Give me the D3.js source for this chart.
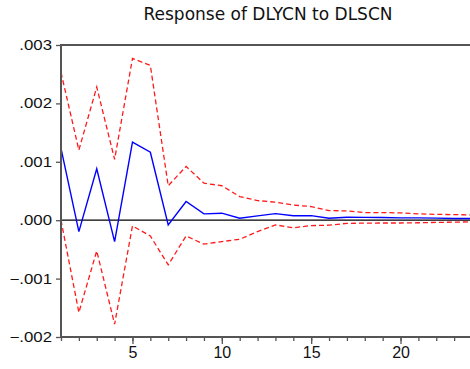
<!DOCTYPE html>
<html>
<head>
<meta charset="utf-8">
<script src="https://cdn.jsdelivr.net/npm/d3@7"></script>
<style>
  body { margin: 0; background: #fff; }
  svg { display: block; }
</style>
</head>
<body>
<div id="chart"></div>
<script>
// impulse response of DLYCN to a DLSCN shock, with +/- 2 s.e. bands
var periods = d3.range(1, 25);
var response = [0.00123, -0.000195, 0.00088, -0.000366, 0.001336, 0.001164, -0.00008, 0.00032,
  0.000108, 0.00012, 0.000034, 0.000074, 0.000113, 0.000076, 0.000079, 0.000034,
  0.00005, 0.000048, 0.000045, 0.00004, 0.00004, 0.000035, 0.00003, 0.00003];
var upper = [0.00253, 0.0012, 0.00228, 0.00104, 0.00277, 0.00265, 0.00059, 0.00092,
  0.000634, 0.00059, 0.000404, 0.000336, 0.000308, 0.00026, 0.000233, 0.000164,
  0.00016, 0.00013, 0.00013, 0.000125, 0.000108, 0.0001, 0.000096, 0.00009];
var lower = [0.0, -0.00158, -0.000526, -0.00178, -0.000098, -0.00027, -0.000765, -0.00027,
  -0.00041, -0.000366, -0.000326, -0.000195, -0.00008, -0.00013, -0.000092, -0.000086,
  -0.000054, -0.00005, -0.000048, -0.000048, -0.000044, -0.000038, -0.000033, -0.000028];
var yTicks = [-0.002, -0.001, 0, 0.001, 0.002, 0.003];
var xTicks = [5, 10, 15, 20];

var width = 470, height = 369;
var plotL = 61, plotR = 472, plotT = 45, plotB = 337;

var svg = d3.select("#chart").append("svg")
  .attr("width", width)
  .attr("height", height);

var x = d3.scaleLinear().domain([1, 24]).range([plotL, plotR]);
var y = d3.scaleLinear().domain([-0.002, 0.003]).range([plotB, plotT]);

// title
svg.append("text")
  .attr("x", 268)
  .attr("y", 20)
  .attr("text-anchor", "middle")
  .attr("font-family", "DejaVu Sans")
  .attr("font-size", "17px")
  .attr("fill", "#111")
  .text("Response of DLYCN to DLSCN");

// zero line
svg.append("line")
  .attr("x1", plotL).attr("x2", plotR)
  .attr("y1", y(0)).attr("y2", y(0))
  .style("stroke", "#000")
  .style("stroke-width", 1.2);

var line = d3.line()
  .x(function(d, i) { return x(periods[i]); })
  .y(function(d) { return y(d); });

[upper, lower].forEach(function(band) {
  svg.append("path")
    .datum(band)
    .attr("d", line)
    .style("fill", "none")
    .style("stroke", "#ff1a1a")
    .style("stroke-width", 1.3)
    .style("stroke-dasharray", "5,3");
});

svg.append("path")
  .datum(response)
  .attr("d", line)
  .style("fill", "none")
  .style("stroke", "#0000ff")
  .style("stroke-width", 1.4);

// axes
var yAxis = svg.append("g")
  .attr("transform", "translate(" + plotL + ",0)")
  .call(d3.axisLeft(y).tickValues(yTicks).tickSize(5).tickPadding(4)
    .tickFormat(function(d) { return d3.format(".3f")(d).replace("0.", "."); }));

var xAxis = svg.append("g")
  .attr("transform", "translate(0," + plotB + ")")
  .call(d3.axisBottom(x).tickValues(periods).tickSize(4).tickFormat(""));

var xLabels = svg.append("g")
  .attr("transform", "translate(0," + plotB + ")")
  .call(d3.axisBottom(x).tickValues(xTicks).tickSize(7).tickPadding(3));

[yAxis, xAxis, xLabels].forEach(function(g) {
  g.select(".domain").remove();
  g.selectAll("line").style("stroke", "#555").style("stroke-width", 1.3);
});

yAxis.selectAll("text")
  .attr("font-family", "Liberation Sans, Arial")
  .attr("font-size", "14px")
  .attr("fill", "#111")
  .attr("transform", "scale(1.2,1)")
  .attr("x", -9 / 1.2);

xLabels.selectAll("text")
  .attr("font-family", "Liberation Sans, Arial")
  .attr("font-size", "16px")
  .attr("fill", "#111");

// frame: left, bottom and top edges
svg.append("path")
  .attr("d", "M" + plotR + "," + plotT + "H" + plotL + "V" + plotB + "H" + plotR)
  .style("fill", "none")
  .style("stroke", "#555")
  .style("stroke-width", 2);
</script>
</body>
</html>
